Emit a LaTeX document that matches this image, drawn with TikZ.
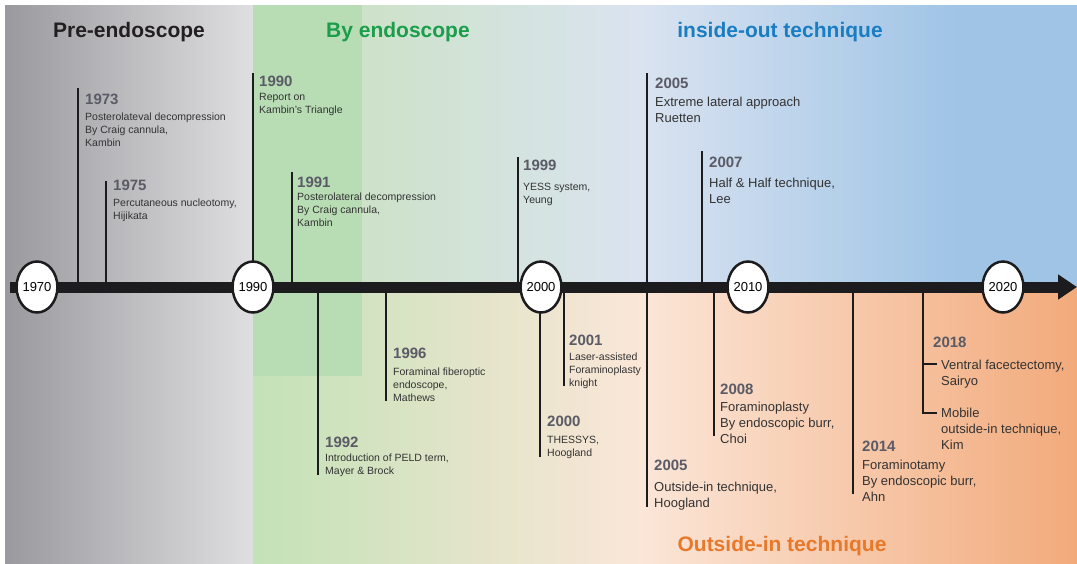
\documentclass[tikz,border=0pt]{standalone}
\usepackage{fontspec}
\setmainfont{Liberation Sans}
\usetikzlibrary{shapes.geometric,arrows.meta}
\definecolor{grayL}{HTML}{9A9A9E}
\definecolor{grayR}{HTML}{DFDFE1}
\definecolor{greenblk}{HTML}{B8DDB5}
\definecolor{upA}{HTML}{C8E2B9}
\definecolor{upB}{HTML}{DAE3F0}
\definecolor{upC}{HTML}{9FC4E6}
\definecolor{loA}{HTML}{C3E2B7}
\definecolor{loB}{HTML}{FBE6D8}
\definecolor{loC}{HTML}{F2AA7B}
\definecolor{yearc}{HTML}{5A5B66}
\definecolor{bodyc}{HTML}{333333}
\definecolor{linec}{HTML}{1C1C1E}
\definecolor{ttlgray}{HTML}{231F20}
\definecolor{ttlgreen}{HTML}{1A9E4B}
\definecolor{ttlblue}{HTML}{1A7DC2}
\definecolor{ttlorange}{HTML}{E8792B}
\begin{document}
\begin{tikzpicture}[x=1pt,y=-1pt,
  tickline/.style={line width=2pt, draw=linec},
  yr/.style={font=\fontsize{15}{18}\selectfont\bfseries, text=yearc, anchor=north west, inner sep=0pt},
  sm/.style={font=\fontsize{10.5}{12.8}\selectfont, text=bodyc, anchor=north west, inner sep=0pt, align=left},
  lg/.style={font=\fontsize{13}{16}\selectfont, text=bodyc, anchor=north west, inner sep=0pt, align=left},
  decade/.style={ellipse, draw=linec, line width=2.5pt, fill=white, minimum width=39pt, minimum height=51pt, inner sep=0pt, font=\fontsize{13}{15}\selectfont},
  ttl/.style={font=\fontsize{21}{24}\selectfont\bfseries, anchor=base, inner sep=0pt}]
\useasboundingbox (0,0) rectangle (1077,563);
\fill[white] (0,0) rectangle (1077,563);
% backgrounds
\shade[left color=grayL, right color=grayR] (5,5) rectangle (253.5,563);
\shade[left color=upA, right color=upB] (253,5) rectangle (640.5,287);
\shade[left color=upB, right color=upC] (640,5) rectangle (960.5,287);
\fill[upC] (960,5) rectangle (1077,287);
\shade[left color=loA, right color=loB] (253,287) rectangle (640.5,563);
\shade[left color=loB, right color=loC] (640,287) rectangle (1077,563);
\fill[greenblk] (253,5) rectangle (362,376);
% titles
\node[ttl, text=ttlgray] (tpre) at (129,37) {Pre-endoscope};
\node[ttl, text=ttlgreen] (tby) at (398,37) {By endoscope};
\node[ttl, text=ttlblue] (tin) at (780,37) {inside-out technique};
\node[ttl, text=ttlorange] (tout) at (782,551) {Outside-in technique};
% axis reference
\coordinate (ax) at (0,287);
\coordinate (axs) at (10,287);
\coordinate (axe) at (1077,287);
% tick ends
\coordinate (t1973) at (78,88);
\coordinate (t1975) at (106,181);
\coordinate (t1990) at (253,73);
\coordinate (t1991) at (292,172);
\coordinate (t1999) at (518,157);
\coordinate (t2005a) at (647,73);
\coordinate (t2005b) at (647,507);
\coordinate (t2007) at (702,151);
\coordinate (t1992) at (318,475);
\coordinate (t1996) at (386,401);
\coordinate (t2000) at (540,457);
\coordinate (t2001) at (564,386);
\coordinate (t2008) at (714,436);
\coordinate (t2014) at (853,494);
\coordinate (t2018) at (923,413);
\coordinate (k2018a) at (937,364);
\coordinate (k2018b) at (937,413);
\foreach \t in {t1973,t1975,t1990,t1991,t1999,t2007,t1992,t1996,t2000,t2001,t2008,t2014}
  \draw[tickline] (\t) -- (\t |- ax);
\draw[tickline] (t2005a) -- (t2005b);
\draw[tickline] (t2018 |- ax) -- (t2018) -- (k2018b);
\draw[tickline] (t2018 |- k2018a) -- (k2018a);
% axis
\draw[line width=11pt, draw=linec, -{Triangle[length=19pt,width=24pt]}] (axs) -- (axe);
% decades
\node[decade] (d1970) at (37,287) {1970};
\node[decade] (d1990) at (253,287) {1990};
\node[decade] (d2000) at (541,287) {2000};
\node[decade] (d2010) at (748,287) {2010};
\node[decade] (d2020) at (1003,287) {2020};
% upper labels
\node[yr] (y1973) at (85,94) {1973};
\node[sm] (b1973) at (85,113) {Posterolateval decompression\\By Craig cannula,\\Kambin};
\node[yr] (y1975) at (113,180) {1975};
\node[sm] (b1975) at (113,199) {Percutaneous nucleotomy,\\Hijikata};
\node[yr] (y1990) at (259,76) {1990};
\node[sm] (b1990) at (259,93) {Report on\\Kambin's Triangle};
\node[yr] (y1991) at (297,177) {1991};
\node[sm] (b1991) at (297,193) {Posterolateral decompression\\By Craig cannula,\\Kambin};
\node[yr] (y1999) at (523,160) {1999};
\node[sm] (b1999) at (523,183) {YESS system,\\Yeung};
\node[yr] (y2005a) at (655,78) {2005};
\node[lg] (b2005a) at (655,97) {Extreme lateral approach\\Ruetten};
\node[yr] (y2007) at (709,157) {2007};
\node[lg] (b2007) at (709,178) {Half \& Half technique,\\Lee};
% lower labels
\node[yr] (y1992) at (325,437) {1992};
\node[sm] (b1992) at (325,454) {Introduction of PELD term,\\Mayer \& Brock};
\node[yr] (y1996) at (393,348) {1996};
\node[sm] (b1996) at (393,368) {Foraminal fiberoptic\\endoscope,\\Mathews};
\node[yr] (y2000) at (547,416) {2000};
\node[sm] (b2000) at (547,436) {THESSYS,\\Hoogland};
\node[yr] (y2001) at (569,335) {2001};
\node[sm] (b2001) at (569,353) {Laser-assisted\\Foraminoplasty\\knight};
\node[yr] (y2008) at (720,384) {2008};
\node[lg] (b2008) at (720,402) {Foraminoplasty\\By endoscopic burr,\\Choi};
\node[yr] (y2005b) at (654,460) {2005};
\node[lg] (b2005b) at (654,482) {Outside-in technique,\\Hoogland};
\node[yr] (y2014) at (862,441) {2014};
\node[lg] (b2014) at (862,460) {Foraminotamy\\By endoscopic burr,\\Ahn};
\node[yr] (y2018) at (933,337) {2018};
\node[lg] (b2018a) at (941,360) {Ventral facectectomy,\\Sairyo};
\node[lg] (b2018b) at (941,408) {Mobile\\outside-in technique,\\Kim};
\end{tikzpicture}
\end{document}
